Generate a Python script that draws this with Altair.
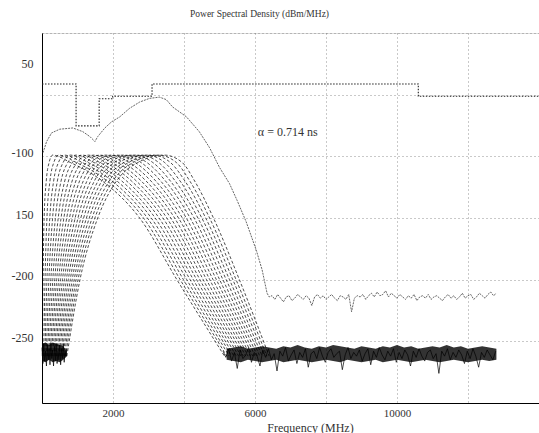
import altair as alt
import pandas as pd
import numpy as np

# ---------------- data ----------------
# FCC indoor mask (step-after), MHz / dBm/MHz
mask_f = [0, 960, 1610, 1990, 3100, 10600, 14000]
mask_db = [-41.3, -75.3, -53.3, -51.3, -41.3, -51.3, -51.3]

# family of pulse spectra: frequency (MHz) at fixed levels for each curve
fam_levels = [-262, -200, -150, -120, -105, -99, -105, -120, -150, -200, -262]
asc262 = [10, 46, 83, 119, 155, 192, 228, 264, 300, 337, 373, 409, 446, 482, 518, 555, 591, 627, 664, 700]
asc200 = [30, 85, 139, 194, 249, 304, 359, 413, 468, 523, 577, 632, 687, 741, 796, 851, 906, 960, 1015, 1070]
asc150 = [60, 139, 219, 298, 378, 457, 537, 616, 696, 775, 855, 934, 1014, 1093, 1173, 1252, 1331, 1411, 1490, 1570]
asc120 = [120, 224, 328, 433, 537, 641, 745, 849, 954, 1058, 1162, 1266, 1371, 1475, 1579, 1683, 1787, 1892, 1996, 2100]
asc105 = [200, 332, 463, 595, 726, 858, 989, 1121, 1253, 1384, 1516, 1647, 1779, 1911, 2042, 2174, 2305, 2437, 2568, 2700]
peak = [300, 470, 630, 800, 960, 1130, 1300, 1460, 1630, 1790, 1960, 2120, 2290, 2460, 2620, 2790, 2950, 3120, 3280, 3450]
desc105 = [800, 966, 1132, 1297, 1463, 1629, 1795, 1961, 2126, 2292, 2458, 2624, 2789, 2955, 3121, 3287, 3453, 3618, 3784, 3950]
desc120 = [1700, 1837, 1974, 2111, 2247, 2384, 2521, 2658, 2795, 2932, 3068, 3205, 3342, 3479, 3616, 3753, 3889, 4026, 4163, 4300]
desc150 = [2750, 2859, 2969, 3078, 3188, 3297, 3407, 3516, 3626, 3735, 3845, 3954, 4064, 4173, 4283, 4392, 4502, 4611, 4721, 4830]
desc200 = [3800, 3893, 3985, 4078, 4171, 4263, 4356, 4448, 4541, 4634, 4726, 4819, 4912, 5004, 5097, 5189, 5282, 5375, 5467, 5560]
desc262 = [5140, 5206, 5273, 5339, 5405, 5472, 5538, 5604, 5671, 5737, 5803, 5869, 5936, 6002, 6068, 6135, 6201, 6267, 6334, 6400]

# upper spectrum (alpha = 0.714 ns)
up_f = [30, 130, 270, 500, 870, 1150, 1350, 1490, 1570, 1770, 1960, 2190, 2470, 2750, 3030,
        3310, 3500, 3680, 4070, 4430, 4720, 5000, 5280, 5500, 5750, 6035, 6200, 6340]
up_db = [-97, -88, -81, -78, -77, -80, -84, -88, -84, -77, -72, -68, -61, -56, -53,
         -52, -54, -60, -68, -80, -93, -109, -122, -136, -153, -176, -192, -211]
up_tail_start = 6400
up_tail_step = 80
up_tail_db = [-214, -213, -216, -212, -215, -218, -214, -213, -217, -215, -212, -214, -216, -213,
              -215, -221, -214, -212, -215, -213, -216, -214, -212, -215, -217, -213, -214, -216,
              -212, -226, -215, -213, -214, -212, -216, -213, -211, -214, -210, -213, -212, -209,
              -214, -211, -213, -215, -212, -214, -216, -213, -215, -212, -217, -214, -213, -215,
              -212, -216, -214, -213, -215, -217, -214, -212, -215, -213, -216, -214, -211, -215,
              -213, -212, -216, -214, -211, -213, -215, -212, -210, -213, -211]

# noise floor of the family (right part)
band_f = list(range(5200, 12801, 200))
band_hi = [-256, -255, -254, -256, -255, -254, -255, -256, -254, -255, -253, -255, -256, -254,
           -255, -253, -254, -255, -256, -254, -255, -256, -254, -255, -253, -255, -254, -256,
           -255, -254, -255, -253, -255, -254, -256, -255, -254, -255, -256]
band_lo = [-265, -266, -267, -265, -266, -267, -266, -265, -267, -266, -265, -266, -267, -266,
           -265, -266, -267, -265, -266, -267, -266, -265, -267, -266, -265, -266, -267, -266,
           -265, -266, -267, -266, -265, -266, -267, -266, -265, -266, -265]
spk_start = 5100
spk_step = 80
spk_db = [-258, -263, -256, -266, -259, -272, -257, -264, -261, -255, -267, -259, -262, -270,
          -257, -263, -256, -265, -260, -274, -258, -262, -255, -266, -261, -257, -268, -259,
          -263, -256, -271, -260, -258, -264, -255, -262, -267, -259, -256, -263, -260, -258,
          -273, -261, -255, -264, -259, -262, -257, -266, -260, -256, -269, -258, -263, -255,
          -261, -265, -258, -262, -256, -267, -259, -264, -257, -261, -270, -258, -263, -256,
          -262, -266, -259, -257, -264, -260, -276, -258, -262, -256, -265, -259, -263, -257,
          -261, -268, -258, -264, -256, -262, -271, -259, -263, -257, -261, -265, -258]

# noise floor (left part)
lband_f = [0, 100, 200, 300, 400, 500, 600, 700]
lband_hi = [-252, -251, -253, -251, -252, -253, -254, -258]
lband_lo = [-266, -267, -265, -267, -266, -267, -265, -262]
lspk_step = 25
lspk_db = [-255, -268, -252, -266, -258, -270, -253, -265, -256, -269, -251, -264, -257, -270,
           -254, -266, -252, -268, -258, -265, -253, -269, -256, -264, -252, -267, -258, -262, -256]

label_f = [6080]
label_db = [-80]
label_text = ["\u03b1 = 0.714 ns"]

# ---------------- tables ----------------
cols = [asc262, asc200, asc150, asc120, asc105, peak, desc105, desc120, desc150, desc200, desc262]
fam_rows = []
for k in range(len(peak)):
    for j, lev in enumerate(fam_levels):
        fam_rows.append({"curve": k, "f": cols[j][k], "db": lev})
fam = pd.DataFrame(fam_rows)

up = pd.DataFrame({
    "f": up_f + [up_tail_start + up_tail_step * i for i in range(len(up_tail_db))],
    "db": up_db + up_tail_db,
})
mask = pd.DataFrame({"f": mask_f, "db": mask_db})
band = pd.DataFrame({"f": band_f, "hi": band_hi, "lo": band_lo})
lband = pd.DataFrame({"f": lband_f, "hi": lband_hi, "lo": lband_lo})
spk = pd.DataFrame({"f": [spk_start + spk_step * i for i in range(len(spk_db))], "db": spk_db})
lspk = pd.DataFrame({"f": [lspk_step * i for i in range(len(lspk_db))], "db": lspk_db})
lab = pd.DataFrame({"f": label_f, "db": label_db, "t": label_text})

FONT = "Liberation Serif"
xs = alt.Scale(domain=[0, 14000], nice=False, zero=False)
ys = alt.Scale(domain=[-300, 0], nice=False, zero=False)

x_axis = alt.Axis(
    values=list(range(0, 14001, 2000)),
    labelExpr="(datum.value == 2000 || datum.value == 6000 || datum.value == 10000) ? datum.value : ''",
    grid=True, gridDash=[1, 3], gridColor="#777", gridWidth=0.8,
    tickSize=0, labelPadding=4, labelFont=FONT, labelFontSize=11, labelColor="#333",
    title="Frequency (MHz)", titleFont=FONT, titleFontSize=12, titleFontWeight="normal",
    titleColor="#333", titleX=268, titleY=24, titleBaseline="middle",
    domainColor="black",
)
y_axis = alt.Axis(
    values=list(range(-300, 1, 50)),
    labelExpr="datum.value == -50 ? '50' : datum.value == -100 ? '-100' : datum.value == -150 ? '150' : datum.value == -200 ? '-200' : datum.value == -250 ? '-250' : ''",
    grid=True, gridDash=[1, 3], gridColor="#777", gridWidth=0.8,
    tickSize=0, labelPadding=9, labelFont=FONT, labelFontSize=12, labelColor="#333",
    labelBaseline="alphabetic",
    labelOffset={"condition": {"test": "datum.value == -50", "value": -27}, "value": 0},
    title=None, domainColor="black",
)

l_band = alt.Chart(band).mark_area(color="black", opacity=0.8).encode(
    x=alt.X("f:Q", scale=xs, axis=x_axis), y=alt.Y("hi:Q", scale=ys, axis=y_axis), y2="lo:Q")
l_lband = alt.Chart(lband).mark_area(color="black", opacity=0.8).encode(
    x=alt.X("f:Q", scale=xs), y=alt.Y("hi:Q", scale=ys), y2="lo:Q")
l_spk = alt.Chart(spk).mark_line(color="black", strokeWidth=0.7).encode(
    x=alt.X("f:Q", scale=xs), y=alt.Y("db:Q", scale=ys))
l_lspk = alt.Chart(lspk).mark_line(color="black", strokeWidth=0.7).encode(
    x=alt.X("f:Q", scale=xs), y=alt.Y("db:Q", scale=ys))
l_fam = alt.Chart(fam).mark_line(color="black", strokeWidth=0.7, strokeDash=[3, 2],
                                 interpolate="monotone").encode(
    x=alt.X("f:Q", scale=xs), y=alt.Y("db:Q", scale=ys), detail="curve:N")
l_up = alt.Chart(up).mark_line(color="#555", strokeWidth=0.9, strokeDash=[2, 1]).encode(
    x=alt.X("f:Q", scale=xs), y=alt.Y("db:Q", scale=ys))
l_mask = alt.Chart(mask).mark_line(color="#222", strokeWidth=1.1, strokeDash=[1.5, 1.5],
                                   interpolate="step-after").encode(
    x=alt.X("f:Q", scale=xs), y=alt.Y("db:Q", scale=ys))
l_text = alt.Chart(lab).mark_text(align="left", baseline="middle", font=FONT, fontSize=12,
                                  color="#333").encode(
    x=alt.X("f:Q", scale=xs), y=alt.Y("db:Q", scale=ys), text="t:N")

chart = alt.layer(l_band, l_lband, l_spk, l_lspk, l_fam, l_up, l_mask, l_text).properties(
    width=497, height=370,
    title=alt.TitleParams("Power Spectral Density (dBm/MHz)", font=FONT, fontSize=9.5,
                          fontWeight="normal", color="#333", anchor="middle", dx=-31,
                          offset=4, baseline="bottom"),
    padding={"left": 42, "top": 33, "right": 0, "bottom": 30},
    autosize=alt.AutoSizeParams(type="none"),
).configure_view(stroke="black", strokeWidth=1).configure(background="white")

chart.save("out.html", embed_options={"renderer": "svg", "actions": False})
